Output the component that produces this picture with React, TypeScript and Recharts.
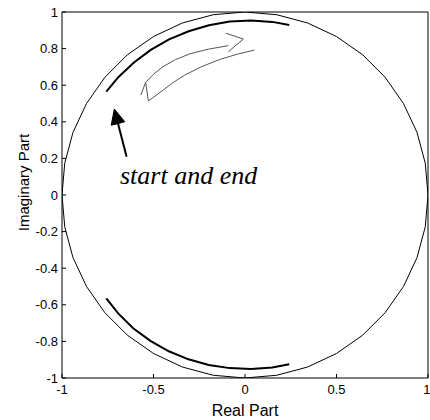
import React from 'react';
import { ComposedChart, XAxis, YAxis, Scatter, ReferenceDot } from 'recharts';

const xTicks = [-1, -0.5, 0, 0.5, 1];
const yTicks = [-1, -0.8, -0.6, -0.4, -0.2, 0, 0.2, 0.4, 0.6, 0.8, 1];

const unitCircle = [
  { x: 1, y: 0 }, { x: 0.985, y: 0.174 }, { x: 0.94, y: 0.342 }, { x: 0.866, y: 0.5 },
  { x: 0.766, y: 0.643 }, { x: 0.643, y: 0.766 }, { x: 0.5, y: 0.866 }, { x: 0.342, y: 0.94 },
  { x: 0.174, y: 0.985 }, { x: 0, y: 1 }, { x: -0.174, y: 0.985 }, { x: -0.342, y: 0.94 },
  { x: -0.5, y: 0.866 }, { x: -0.643, y: 0.766 }, { x: -0.766, y: 0.643 }, { x: -0.866, y: 0.5 },
  { x: -0.94, y: 0.342 }, { x: -0.985, y: 0.174 }, { x: -1, y: 0 }, { x: -0.985, y: -0.174 },
  { x: -0.94, y: -0.342 }, { x: -0.866, y: -0.5 }, { x: -0.766, y: -0.643 }, { x: -0.643, y: -0.766 },
  { x: -0.5, y: -0.866 }, { x: -0.342, y: -0.94 }, { x: -0.174, y: -0.985 }, { x: 0, y: -1 },
  { x: 0.174, y: -0.985 }, { x: 0.342, y: -0.94 }, { x: 0.5, y: -0.866 }, { x: 0.643, y: -0.766 },
  { x: 0.766, y: -0.643 }, { x: 0.866, y: -0.5 }, { x: 0.94, y: -0.342 }, { x: 0.985, y: -0.174 },
  { x: 1, y: 0 },
];

const upperArc = [
  { x: -0.758, y: 0.565 }, { x: -0.691, y: 0.645 }, { x: -0.607, y: 0.724 }, { x: -0.515, y: 0.793 },
  { x: -0.415, y: 0.85 }, { x: -0.308, y: 0.895 }, { x: -0.197, y: 0.928 }, { x: -0.083, y: 0.948 },
  { x: 0.033, y: 0.954 }, { x: 0.15, y: 0.946 }, { x: 0.242, y: 0.929 },
];

const lowerArc = [
  { x: -0.758, y: -0.565 }, { x: -0.693, y: -0.647 }, { x: -0.611, y: -0.728 }, { x: -0.517, y: -0.797 },
  { x: -0.416, y: -0.854 }, { x: -0.309, y: -0.898 }, { x: -0.198, y: -0.929 }, { x: -0.083, y: -0.946 },
  { x: 0.033, y: -0.951 }, { x: 0.149, y: -0.942 }, { x: 0.242, y: -0.925 },
];

// thin curved "direction" arrow outline
const flowUpper = [
  { x: -0.543, y: 0.616 }, { x: -0.5, y: 0.66 }, { x: -0.45, y: 0.7 }, { x: -0.38, y: 0.74 },
  { x: -0.3, y: 0.772 }, { x: -0.2, y: 0.797 }, { x: -0.091, y: 0.816 },
];
const flowHead = [
  { x: -0.104, y: 0.884 }, { x: -0.009, y: 0.852 }, { x: -0.091, y: 0.783 },
];
const flowLower = [
  { x: -0.446, y: 0.574 }, { x: -0.4, y: 0.61 }, { x: -0.33, y: 0.655 }, { x: -0.24, y: 0.7 },
  { x: -0.14, y: 0.74 }, { x: -0.04, y: 0.77 }, { x: 0.051, y: 0.792 },
];
const flowTail = [
  { x: -0.569, y: 0.546 }, { x: -0.543, y: 0.616 }, { x: -0.528, y: 0.514 }, { x: -0.446, y: 0.574 },
];

// black pointer arrow
const pointerShaft = [
  { x: -0.647, y: 0.209 }, { x: -0.694, y: 0.391 },
];
const pointerHead = [
  { x: -0.714, y: 0.47 }, { x: -0.657, y: 0.4 }, { x: -0.731, y: 0.381 }, { x: -0.714, y: 0.47 },
];

const noteText = 'start and end';
const noteX = -0.683;
const noteY = 0.06;

const noShape = () => <g />;

const tickStyle = { fill: '#000', fontSize: 13 };

const YLabel = (props: any) => {
  const vb = props.viewBox || {};
  const x = vb.x + 17.3;
  const y = vb.y + vb.height / 2 - 12.5;
  return (
    <text x={x} y={y} textAnchor="middle" fontSize={15} fill="#000" transform={`rotate(-90, ${x}, ${y})`}>
      Imaginary Part
    </text>
  );
};

export default function App() {
  return (
    <div style={{ position: 'absolute', left: 0, top: 0, fontFamily: '"Liberation Sans", Arial, sans-serif' }}>
      <ComposedChart width={430} height={420} margin={{ top: 11, right: 1, bottom: 0, left: 12 }}>
        <XAxis
          dataKey="x"
          type="number"
          domain={[-1, 1]}
          ticks={xTicks}
          allowDataOverflow
          height={42}
          stroke="#000"
          tickSize={-4}
          tickMargin={11}
          tick={tickStyle}
          label={{ value: 'Real Part', position: 'insideBottom', offset: 4, fill: '#000', fontSize: 16 }}
        />
        <XAxis
          xAxisId="top"
          orientation="top"
          type="number"
          domain={[-1, 1]}
          ticks={xTicks}
          allowDataOverflow
          height={1}
          stroke="#000"
          tickSize={-4}
          tick={false}
        />
        <YAxis
          dataKey="y"
          type="number"
          domain={[-1, 1]}
          ticks={yTicks}
          allowDataOverflow
          width={50}
          stroke="#000"
          tickSize={-4}
          tickMargin={8}
          tick={tickStyle}
          label={YLabel}
        />
        <YAxis
          yAxisId="right"
          orientation="right"
          type="number"
          domain={[-1, 1]}
          ticks={yTicks}
          allowDataOverflow
          width={1}
          stroke="#000"
          tickSize={-4}
          tick={false}
        />
        <Scatter data={unitCircle} line={{ stroke: '#000', strokeWidth: 1 }} shape={noShape} isAnimationActive={false} />
        <Scatter data={upperArc} line={{ stroke: '#000', strokeWidth: 2 }} shape={noShape} isAnimationActive={false} />
        <Scatter data={lowerArc} line={{ stroke: '#000', strokeWidth: 2 }} shape={noShape} isAnimationActive={false} />
        <Scatter data={flowUpper} line={{ stroke: '#555', strokeWidth: 1 }} shape={noShape} isAnimationActive={false} />
        <Scatter data={flowHead} line={{ stroke: '#555', strokeWidth: 1 }} shape={noShape} isAnimationActive={false} />
        <Scatter data={flowLower} line={{ stroke: '#555', strokeWidth: 1 }} shape={noShape} isAnimationActive={false} />
        <Scatter data={flowTail} line={{ stroke: '#555', strokeWidth: 1 }} shape={noShape} isAnimationActive={false} />
        <Scatter data={pointerShaft} line={{ stroke: '#000', strokeWidth: 2 }} shape={noShape} isAnimationActive={false} />
        <Scatter data={pointerHead} line={{ stroke: '#000', strokeWidth: 1, fill: '#000' }} shape={noShape} isAnimationActive={false} />
        <ReferenceDot
          x={noteX}
          y={noteY}
          r={0}
          ifOverflow="visible"
          shape={(p: any) => (
            <text
              x={p.cx}
              y={p.cy}
              fontFamily='"Liberation Serif", "Times New Roman", serif'
              fontStyle="italic"
              fontSize={26}
              fill="#000"
            >
              {noteText}
            </text>
          )}
        />
      </ComposedChart>
    </div>
  );
}
